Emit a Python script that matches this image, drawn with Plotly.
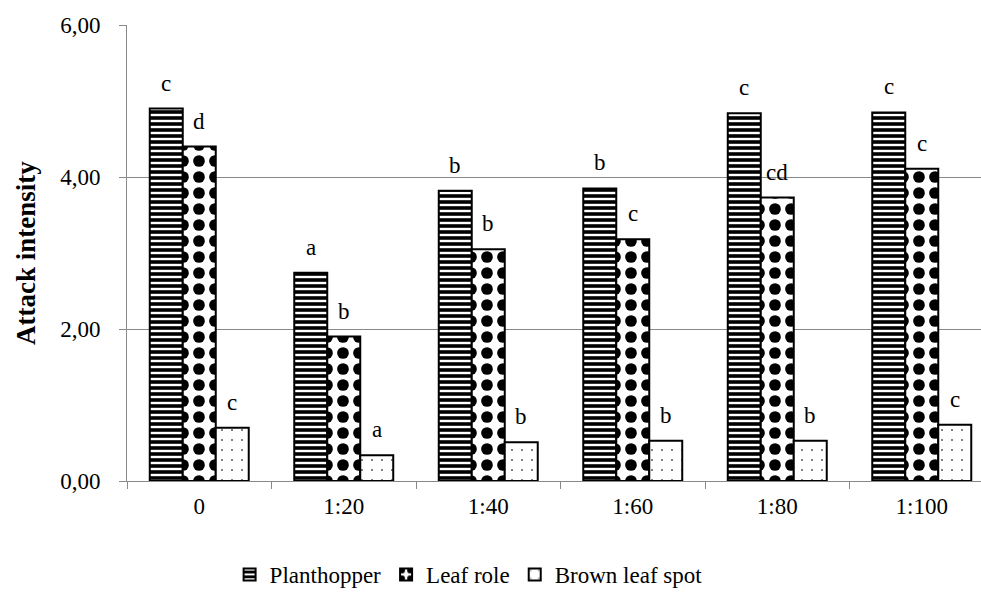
import plotly.graph_objects as go

categories = ["0", "1:20", "1:40", "1:60", "1:80", "1:100"]
planthopper = [4.90, 2.74, 3.82, 3.85, 4.84, 4.85]
leaf_role = [4.40, 1.90, 3.05, 3.18, 3.73, 4.11]
brown_leaf_spot = [0.70, 0.34, 0.51, 0.53, 0.53, 0.74]
letters_planthopper = ["c", "a", "b", "b", "c", "c"]
letters_leaf_role = ["d", "b", "b", "c", "cd", "c"]
letters_brown = ["c", "a", "b", "b", "b", "c"]
ytick_vals = [0, 2, 4, 6]
ytick_text = ["0,00", "2,00", "4,00", "6,00"]

FONT = "Liberation Serif"
GRAY = "#898989"
BARGAP = 0.315
FS = 23

fig = go.Figure()
series = [
    ("Planthopper", planthopper, dict(shape="-", fgcolor="#000000", bgcolor="#ffffff", size=6,
                                      solidity=0.6, fgopacity=1, fillmode="replace")),
    ("Leaf role", leaf_role, dict(shape=".", fgcolor="#000000", bgcolor="#ffffff", size=16,
                                  solidity=0.42, fgopacity=1, fillmode="replace")),
    ("Brown leaf spot", brown_leaf_spot, dict(shape=".", fgcolor="#555555", bgcolor="#ffffff", size=10,
                                              solidity=0.03, fgopacity=1, fillmode="replace")),
]
for name, vals, pat in series:
    fig.add_trace(go.Bar(
        x=categories, y=vals, name=name,
        marker=dict(color="#000000", pattern=pat, line=dict(color="black", width=2)),
    ))

bw = (1 - BARGAP) / 3
for k, (vals, labs) in enumerate([(planthopper, letters_planthopper),
                                  (leaf_role, letters_leaf_role),
                                  (brown_leaf_spot, letters_brown)]):
    off = (k - 1) * bw
    for i, (v, t) in enumerate(zip(vals, labs)):
        fig.add_annotation(x=i + off, y=v, xref="x", yref="y", text=t,
                           showarrow=False, yanchor="bottom", yshift=11,
                           font=dict(family=FONT, size=FS, color="black"))

fig.add_annotation(x=0, y=0.5, xref="paper", yref="paper", xshift=-101,
                   text="<b>Attack intensity</b>", textangle=-90, showarrow=False,
                   xanchor="center", yanchor="middle",
                   font=dict(family=FONT, size=27, color="black"))

fig.update_layout(
    width=981, height=601,
    margin=dict(l=127, r=0, t=25, b=120),
    paper_bgcolor="white", plot_bgcolor="white",
    barmode="group", bargap=BARGAP, bargroupgap=0,
    font=dict(family=FONT, size=FS, color="black"),
    showlegend=True,
    legend=dict(orientation="h", x=0.40, xanchor="center", y=-0.205, yanchor="middle",
                font=dict(family=FONT, size=FS, color="black"), itemwidth=30,
                tracegroupgap=0),
    xaxis=dict(type="category", range=[-0.5, 5.41], showline=True, linecolor=GRAY, linewidth=1,
               ticks="outside", tickson="boundaries", ticklen=7, tickcolor=GRAY,
               ticklabelstandoff=4,
               showgrid=False, tickfont=dict(family=FONT, size=FS, color="black")),
    yaxis=dict(range=[0, 6], tickvals=ytick_vals, ticktext=ytick_text, showline=True,
               linecolor=GRAY, linewidth=1, ticks="outside", ticklen=7, tickcolor=GRAY,
               ticklabelstandoff=14,
               showgrid=True, gridcolor=GRAY, gridwidth=1, zeroline=False,
               tickfont=dict(family=FONT, size=FS, color="black")),
)

fig.write_html("out.html", config={"displayModeBar": False},
               post_script="document.body.style.margin='0';")
